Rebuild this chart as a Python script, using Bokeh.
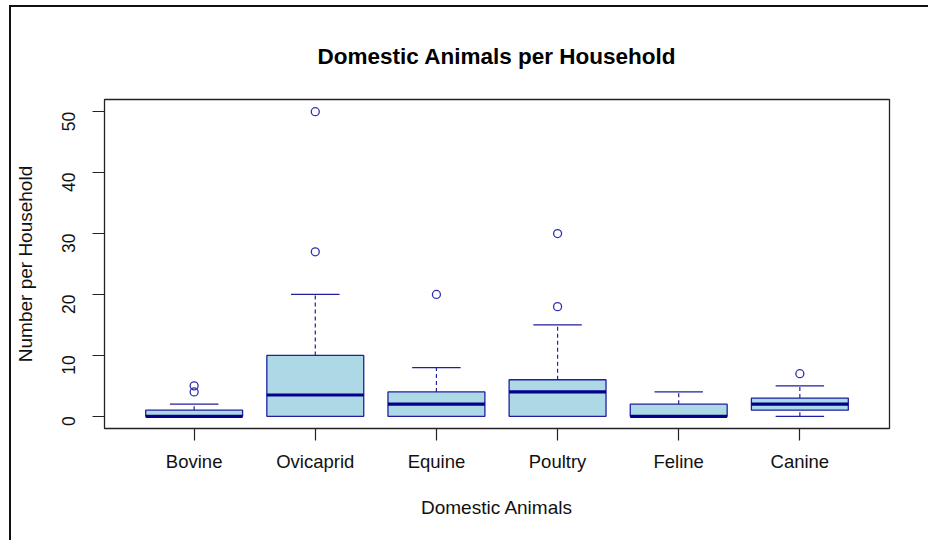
import math

from bokeh.embed import file_html
from bokeh.models import ColumnDataSource, FixedTicker, Range1d
from bokeh.plotting import figure
from bokeh.resources import INLINE

# Box-plot summary per animal type
animals = ["Bovine", "Ovicaprid", "Equine", "Poultry", "Feline", "Canine"]
lower_whisker = [0, 0, 0, 0, 0, 0]
q1 = [0, 0, 0, 0, 0, 1]
median = [0, 3.5, 2, 4, 0, 2]
q3 = [1, 10, 4, 6, 2, 3]
upper_whisker = [2, 20, 8, 15, 4, 5]

# Outlying households
outlier_animal = ["Bovine", "Bovine", "Ovicaprid", "Ovicaprid", "Equine", "Poultry", "Poultry", "Canine"]
outlier_value = [4, 5, 27, 50, 20, 18, 30, 7]

y_ticks = [0, 10, 20, 30, 40, 50]

FONT = "Liberation Sans"
DARK = "#00008B"
LINE = "#1f1fa0"
FILL = "#ADD8E6"

pos = list(range(1, len(animals) + 1))
index = {a: i + 1 for i, a in enumerate(animals)}
box_w = 0.8
staple_w = box_w / 2

src = ColumnDataSource(dict(
    x=pos,
    q1=q1, q3=q3, med=median,
    lo=lower_whisker, hi=upper_whisker,
    x0=[x - box_w / 2 for x in pos], x1=[x + box_w / 2 for x in pos],
    s0=[x - staple_w / 2 for x in pos], s1=[x + staple_w / 2 for x in pos],
))
out_src = ColumnDataSource(dict(x=[index[a] for a in outlier_animal], y=outlier_value))

p = figure(
    width=919, height=535,
    x_range=Range1d(0.26, 6.74), y_range=Range1d(-2.0, 52.0),
    output_backend="svg", toolbar_location=None,
    min_border_left=92, min_border_right=41, min_border_top=92, min_border_bottom=114,
    title="Domestic Animals per Household",
    styles={
        "margin-left": "9px", "margin-top": "5px",
        "border-left": "2px solid #111111", "border-top": "2px solid #111111",
    },
)
p.background_fill_color = "white"
p.border_fill_color = "white"
p.grid.visible = False
p.outline_line_color = "#222222"
p.outline_line_width = 1.3

p.title.align = "center"
p.title.text_font = FONT
p.title.text_font_size = "22.5px"
p.title.text_font_style = "bold"
p.title.text_color = "black"
p.title.standoff = 62

# Whiskers (dashed) and staples
p.segment(x0="x", y0="q3", x1="x", y1="hi", source=src, line_color=LINE, line_width=1.2, line_dash="4 3")
p.segment(x0="x", y0="lo", x1="x", y1="q1", source=src, line_color=LINE, line_width=1.2, line_dash="4 3")
p.segment(x0="s0", y0="hi", x1="s1", y1="hi", source=src, line_color=LINE, line_width=1.3)
p.segment(x0="s0", y0="lo", x1="s1", y1="lo", source=src, line_color=LINE, line_width=1.3)

# Boxes and medians
p.vbar(x="x", width=box_w, bottom="q1", top="q3", source=src,
       fill_color=FILL, line_color=LINE, line_width=1.3)
p.segment(x0="x0", y0="med", x1="x1", y1="med", source=src, line_color=DARK, line_width=3.2)

# Outliers
p.scatter(x="x", y="y", source=out_src, marker="circle", size=8,
          fill_color=None, line_color="#3030b0", line_width=1.3)

# Axes
xa = p.xaxis[0]
xa.ticker = FixedTicker(ticks=pos)
xa.major_label_overrides = {i: a for i, a in zip(pos, animals)}
xa.axis_label = "Domestic Animals"
ya = p.yaxis[0]
ya.ticker = FixedTicker(ticks=y_ticks)
ya.axis_label = "Number per Household"
ya.major_label_orientation = math.pi / 2

for ax in (xa, ya):
    ax.axis_line_color = None
    ax.major_tick_out = 12
    ax.major_tick_in = 0
    ax.minor_tick_line_color = None
    ax.major_tick_line_color = "#222222"
    ax.major_tick_line_width = 1.2
    ax.major_label_text_font = FONT
    ax.major_label_text_color = "#111111"
    ax.axis_label_text_font = FONT
    ax.axis_label_text_font_size = "19px"
    ax.axis_label_text_font_style = "normal"
    ax.axis_label_text_color = "#111111"

xa.major_label_text_font_size = "18.5px"
ya.major_label_text_font_size = "17.5px"
xa.major_label_standoff = 10
xa.axis_label_standoff = 22
ya.major_label_standoff = 24
ya.axis_label_standoff = 17

open("out.html", "w").write(file_html(p, INLINE))
